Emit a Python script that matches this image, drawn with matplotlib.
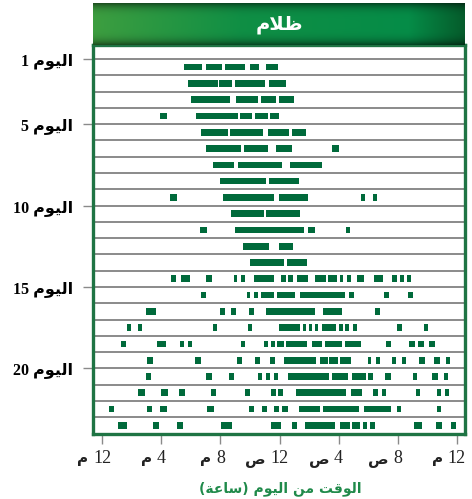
import matplotlib.pyplot as plt
import numpy as np
from matplotlib.transforms import ScaledTranslation

# activity bouts per day, (start, end) in hours after noon
day_1 = [(5.55, 6.75), (7.0, 8.1), (8.3, 9.65), (10.0, 10.6), (11.1, 11.9)]
day_2 = [(5.8, 7.85), (7.9, 8.8), (9.0, 11.0), (11.3, 12.45)]
day_3 = [(6.0, 8.65), (9.05, 10.55), (10.75, 11.75), (11.95, 13.0)]
day_4 = [(3.9, 4.4), (6.35, 9.2), (9.3, 10.15), (10.35, 11.2), (11.35, 11.95)]
day_5 = [(6.7, 8.5), (8.65, 10.9), (11.2, 12.65), (12.85, 13.8)]
day_6 = [(7.0, 9.4), (9.6, 11.2), (11.75, 12.85), (15.55, 16.05)]
day_7 = [(7.5, 8.9), (9.2, 12.15), (12.7, 14.9)]
day_8 = [(7.95, 11.1), (11.3, 13.3)]
day_9 = [(4.6, 5.05), (8.15, 11.65), (11.95, 13.95), (17.5, 17.8), (18.35, 18.6)]
day_10 = [(8.7, 10.95), (11.1, 13.4)]
day_11 = [(6.6, 7.1), (9.0, 13.65), (13.95, 14.4), (16.5, 16.75)]
day_12 = [(9.55, 11.3), (11.95, 12.9)]
day_13 = [(10.0, 12.3), (12.5, 13.85)]
day_14 = [(4.65, 5.0), (5.35, 5.95), (7.0, 7.45), (8.9, 9.1), (9.4, 9.65),
          (10.25, 11.65), (12.1, 12.45), (12.55, 12.9), (13.2, 13.95),
          (14.4, 15.15), (15.3, 15.9), (16.1, 16.3), (16.55, 16.85),
          (17.25, 17.7), (18.4, 19.0), (19.6, 19.95), (20.15, 20.45), (20.65, 20.9)]
day_15 = [(6.7, 7.0), (9.8, 10.0), (10.25, 10.55), (10.75, 11.65), (11.85, 13.05),
          (13.4, 16.45), (16.7, 17.05), (19.05, 19.4), (20.7, 21.05)]
day_16 = [(2.95, 3.65), (7.95, 8.3), (8.7, 9.05), (9.95, 10.25), (11.1, 14.4),
          (14.95, 16.25), (18.45, 18.8)]
day_17 = [(1.65, 1.95), (2.4, 2.7), (7.5, 7.75), (9.85, 10.15), (11.95, 13.4),
          (13.6, 13.8), (14.0, 14.2), (14.4, 14.6), (14.9, 15.8), (16.05, 16.3),
          (16.45, 16.7), (17.0, 17.25), (19.95, 20.3), (21.8, 22.05)]
day_18 = [(1.25, 1.6), (3.7, 4.3), (5.25, 5.55), (5.8, 6.05), (9.4, 9.65),
          (10.95, 11.2), (11.4, 11.7), (11.85, 12.3), (12.45, 13.85), (14.2, 14.9),
          (15.1, 16.25), (16.45, 17.5), (19.2, 19.55), (20.75, 21.15),
          (21.4, 21.8), (22.15, 22.55)]
day_19 = [(3.0, 3.45), (6.3, 6.7), (9.1, 9.45), (10.35, 10.7), (11.35, 11.7),
          (12.3, 14.45), (14.75, 15.3), (15.35, 15.95), (16.1, 16.85),
          (18.0, 18.2), (18.55, 18.8), (19.6, 19.9), (20.3, 20.55),
          (21.45, 21.85), (22.45, 22.85), (23.25, 23.55)]
day_20 = [(2.95, 3.3), (7.0, 7.45), (8.6, 8.9), (10.55, 10.8), (11.1, 11.35),
          (11.6, 11.9), (12.55, 15.35), (15.55, 16.65), (16.9, 17.85),
          (18.0, 18.35), (19.15, 19.55), (21.05, 21.3), (22.35, 22.75), (23.15, 23.4)]
day_21 = [(2.4, 2.9), (3.95, 4.45), (5.2, 5.6), (7.35, 7.7), (9.65, 10.0),
          (11.4, 11.75), (11.9, 12.25), (13.1, 16.5), (16.85, 17.6),
          (18.35, 18.65), (18.95, 19.2), (21.25, 21.5), (22.65, 22.95), (23.2, 23.5)]
day_22 = [(0.45, 0.8), (3.0, 3.35), (3.9, 4.4), (7.1, 7.55), (9.95, 10.25),
          (10.8, 11.15), (11.65, 11.95), (12.15, 12.55), (13.3, 14.75),
          (14.95, 17.4), (17.7, 19.55), (19.95, 20.25), (22.65, 22.95)]
day_23 = [(1.05, 1.65), (3.45, 3.85), (5.05, 5.45), (8.05, 8.8), (11.4, 12.1),
          (12.85, 13.2), (13.7, 15.75), (16.1, 16.75), (16.9, 17.45),
          (17.65, 17.9), (18.15, 18.45), (21.1, 21.65), (22.6, 23.0), (23.6, 23.95)]
days = [day_1, day_2, day_3, day_4, day_5, day_6, day_7, day_8, day_9, day_10,
        day_11, day_12, day_13, day_14, day_15, day_16, day_17, day_18, day_19,
        day_20, day_21, day_22, day_23]

hour_ticks = [0, 4, 8, 12, 16, 20, 24]
hour_numbers = ['12', '4', '8', '12', '4', '8', '12']
hour_letters = ['\uFEE1', '\uFEE1', '\uFEE1', '\uFEB9', '\uFEB9', '\uFEB9', '\uFEE1']  # م / ص
day_ticks = [1, 5, 10, 15, 20]

# Arabic written in visual (left-to-right) order with presentation forms
YOUM = '\uFEE1\uFEEE\uFEF4\uFEDF\uFE8D'          # اليوم
DARK = '\uFEE1\uFEFC\uFEC7'                      # ظلام
XLABEL = ('(\uFE94\uFECB\uFE8E\uFEB3) \uFEE1\uFEEE\uFEF4\uFEDF\uFE8D '
          '\uFEE6\uFEE3 \uFE96\uFED7\uFEEE\uFEDF\uFE8D')  # الوقت من اليوم (ساعة)

BAR = '#006a3b'
FRAME = '#1f7444'
GRID = '#8a8a8a'

fig = plt.figure(figsize=(4.72, 4.99), dpi=100)
ax = fig.add_axes([93 / 472, 1 - 434 / 499, 372 / 472, 389 / 499])

for i, bouts in enumerate(days, start=1):
    ax.broken_barh([(s, e - s) for s, e in bouts], (i + 0.5 - 0.205, 0.41),
                   facecolor=BAR, edgecolor='none', zorder=3)

for y in range(1, len(days) + 1):
    ax.axhline(y, color=GRID, lw=1.4, zorder=1)

ax.set_xlim(-0.63, 24.56)
ax.set_ylim(24.03, 0.14)

for side in ['left', 'right', 'bottom', 'top']:
    ax.spines[side].set_color(FRAME)
    ax.spines[side].set_linewidth(2.4)

ax.set_yticks(day_ticks)
ax.set_yticklabels([str(d) + ' ' + YOUM for d in day_ticks],
                   family=['Liberation Serif', 'DejaVu Sans'], fontweight='bold', fontsize=11.5)
ax.tick_params(axis='y', length=7.5, width=1, color=GRID, pad=7)

ax.set_xticks(hour_ticks)
ax.set_xticklabels([])
ax.tick_params(axis='x', length=7.5, width=1, color=GRID)

trans = ax.get_xaxis_transform()
for x, num, let in zip(hour_ticks, hour_numbers, hour_letters):
    ax.text(x, -0.074, num, transform=trans, ha='center', va='baseline',
            family='Liberation Serif', fontsize=13, color='#222222')
    half = 3.3 * len(num) + 3.5
    off = ScaledTranslation(-half / 72, 0, fig.dpi_scale_trans)
    ax.text(x, -0.074, let, transform=trans + off, ha='right', va='baseline',
            family='DejaVu Sans', fontweight='bold', fontsize=11, color='#222222')

fig.text(280 / 472, 1 - 489 / 499, XLABEL, ha='center', va='center',
         family='DejaVu Sans', fontweight='bold', fontsize=10, color='#1f8a4a')

# header band
hax = fig.add_axes([93 / 472, 1 - 45 / 499, 372 / 472, 42 / 499])
xs = np.linspace(0, 1, 300)
ys = np.linspace(0, 1, 60)
r = np.interp(xs, [0, 0.4, 0.85, 1], [0.24, 0.06, 0.02, 0.02])
g = np.interp(xs, [0, 0.4, 0.85, 1], [0.62, 0.56, 0.55, 0.36])
b = np.interp(xs, [0, 0.4, 0.85, 1], [0.25, 0.27, 0.28, 0.17])
shade = 1 - 0.5 * np.abs(2 * ys - 1) ** 4
img = np.stack([np.outer(shade, r), np.outer(shade, g), np.outer(shade, b)], axis=-1)
hax.imshow(img, aspect='auto', extent=(0, 1, 0, 1))
hax.set_xlim(0, 1)
hax.set_ylim(0, 1)
hax.axis('off')
hax.text(0.5, 0.5, DARK, ha='center', va='center', family='DejaVu Sans',
         fontweight='bold', fontsize=14, color='white')

fig.savefig('out.png', dpi=100)
